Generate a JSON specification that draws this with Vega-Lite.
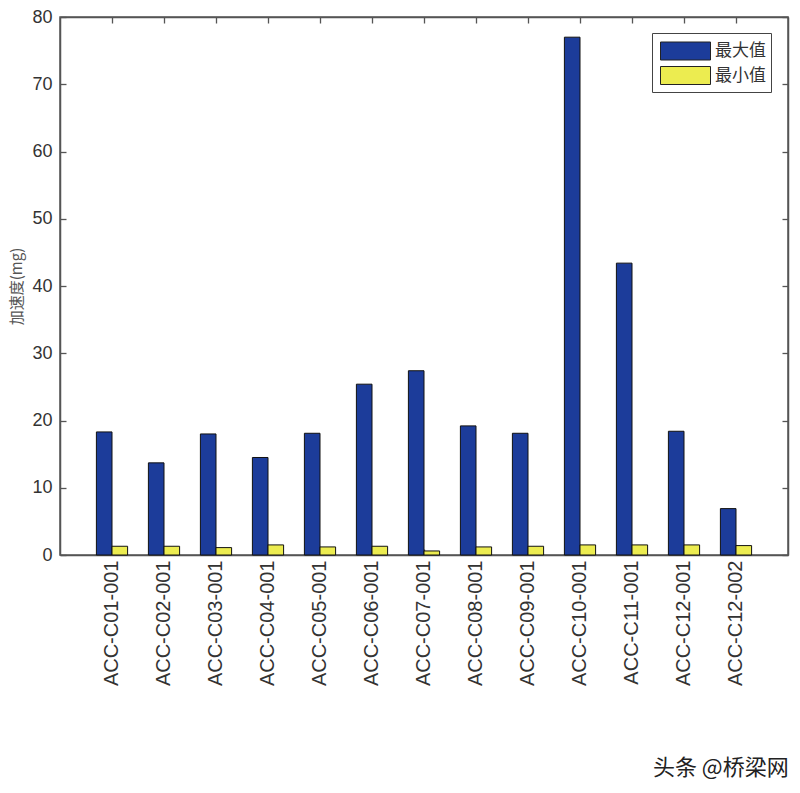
{
  "$schema": "https://vega.github.io/schema/vega-lite/v6.json",
  "autosize": "none",
  "width": 728,
  "height": 538,
  "padding": {"left": 60, "top": 17, "right": 12, "bottom": 238},
  "background": "white",
  "title": {
    "text": "头条 @桥梁网",
    "orient": "bottom",
    "anchor": "end",
    "font": "Noto Sans CJK SC",
    "fontSize": 22,
    "fontWeight": "normal",
    "color": "#222",
    "offset": 72
  },
  "config": {
    "view": {"stroke": "#555", "strokeWidth": 1.5},
    "axis": {
      "domainColor": "#555",
      "domainWidth": 1.5,
      "tickColor": "#555",
      "tickWidth": 1.3,
      "grid": false,
      "labelFont": "Liberation Sans",
      "labelColor": "#333",
      "titleFont": "Noto Sans CJK SC",
      "titleFontWeight": "normal"
    }
  },
  "data": {
    "values": [
      {"sensor": "ACC-C01-001", "series": "最大值", "value": 18.3},
      {"sensor": "ACC-C01-001", "series": "最小值", "value": 1.3},
      {"sensor": "ACC-C02-001", "series": "最大值", "value": 13.7},
      {"sensor": "ACC-C02-001", "series": "最小值", "value": 1.3},
      {"sensor": "ACC-C03-001", "series": "最大值", "value": 18.0},
      {"sensor": "ACC-C03-001", "series": "最小值", "value": 1.1},
      {"sensor": "ACC-C04-001", "series": "最大值", "value": 14.5},
      {"sensor": "ACC-C04-001", "series": "最小值", "value": 1.5},
      {"sensor": "ACC-C05-001", "series": "最大值", "value": 18.1},
      {"sensor": "ACC-C05-001", "series": "最小值", "value": 1.2},
      {"sensor": "ACC-C06-001", "series": "最大值", "value": 25.4},
      {"sensor": "ACC-C06-001", "series": "最小值", "value": 1.3},
      {"sensor": "ACC-C07-001", "series": "最大值", "value": 27.4},
      {"sensor": "ACC-C07-001", "series": "最小值", "value": 0.6},
      {"sensor": "ACC-C08-001", "series": "最大值", "value": 19.2},
      {"sensor": "ACC-C08-001", "series": "最小值", "value": 1.2},
      {"sensor": "ACC-C09-001", "series": "最大值", "value": 18.1},
      {"sensor": "ACC-C09-001", "series": "最小值", "value": 1.3},
      {"sensor": "ACC-C10-001", "series": "最大值", "value": 77.0},
      {"sensor": "ACC-C10-001", "series": "最小值", "value": 1.5},
      {"sensor": "ACC-C11-001", "series": "最大值", "value": 43.4},
      {"sensor": "ACC-C11-001", "series": "最小值", "value": 1.5},
      {"sensor": "ACC-C12-001", "series": "最大值", "value": 18.4},
      {"sensor": "ACC-C12-001", "series": "最小值", "value": 1.5},
      {"sensor": "ACC-C12-002", "series": "最大值", "value": 6.9},
      {"sensor": "ACC-C12-002", "series": "最小值", "value": 1.4}
    ]
  },
  "layer": [
    {
      "mark": {"type": "bar", "stroke": "#111", "strokeWidth": 1},
      "encoding": {
        "x": {
          "field": "sensor",
          "type": "nominal",
          "scale": {"paddingInner": 0.4, "paddingOuter": 0.7},
          "axis": {
            "title": null,
            "labelAngle": -90,
            "labelFontSize": 20,
            "labelPadding": 11,
            "tickSize": -6,
            "bandPosition": 0.5
          }
        },
        "xOffset": {"field": "series", "type": "nominal", "sort": ["最大值", "最小值"]},
        "y": {
          "field": "value",
          "type": "quantitative",
          "scale": {"domain": [0, 80], "nice": false},
          "axis": {
            "title": "加速度(mg)",
            "titleFontSize": 15,
            "titleColor": "#555",
            "titlePadding": 7,
            "values": [0, 10, 20, 30, 40, 50, 60, 70, 80],
            "labelFontSize": 18,
            "labelPadding": 14,
            "tickSize": -6
          }
        },
        "color": {
          "field": "series",
          "type": "nominal",
          "sort": ["最大值", "最小值"],
          "scale": {"domain": ["最大值", "最小值"], "range": ["#1c3c9a", "#ecec50"]},
          "legend": {
            "title": null,
            "orient": "none",
            "legendX": 592,
            "legendY": 16,
            "padding": 5,
            "fillColor": "white",
            "strokeColor": "#444",
            "symbolType": "M-0.76,-0.72H3.24V0.72H-0.76Z",
            "symbolSize": 625,
            "symbolStrokeColor": "#222",
            "symbolStrokeWidth": 1,
            "symbolOpacity": 1,
            "labelFont": "Noto Sans CJK SC",
            "labelFontSize": 17,
            "labelColor": "#333",
            "labelOffset": 32,
            "rowPadding": 0.5
          }
        }
      }
    },
    {
      "mark": {"type": "bar", "opacity": 0},
      "encoding": {
        "x": {
          "field": "sensor",
          "type": "nominal",
          "axis": {"orient": "top", "title": null, "labels": false, "tickSize": -6, "bandPosition": 0.5}
        },
        "xOffset": {"field": "series", "type": "nominal", "sort": ["最大值", "最小值"]},
        "y": {
          "field": "value",
          "type": "quantitative",
          "axis": {"orient": "right", "title": null, "labels": false, "tickSize": -6, "values": [0, 10, 20, 30, 40, 50, 60, 70, 80]}
        }
      }
    }
  ],
  "resolve": {"axis": {"x": "independent", "y": "independent"}}
}
